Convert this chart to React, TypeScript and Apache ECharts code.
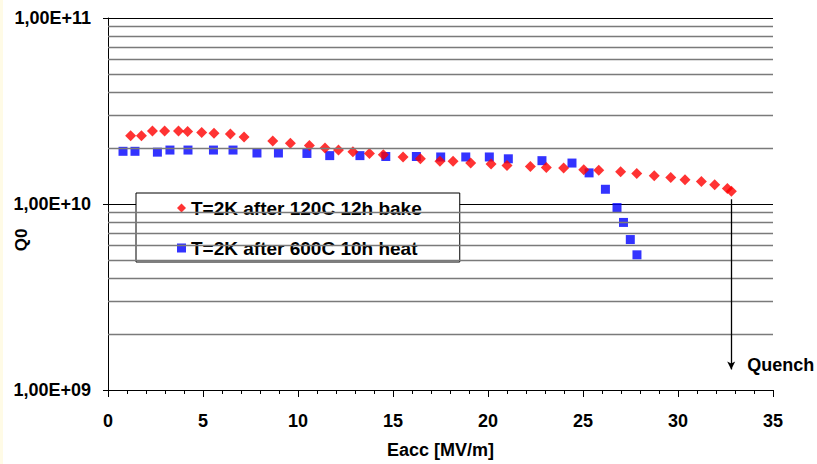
import React, { useEffect, useRef } from "react";
import * as echarts from "echarts";

const redName = "T=2K after 120C 12h bake";
const blueName = "T=2K after 600C 10h heat";

const redX = [1.19, 1.76, 2.34, 2.98, 3.71, 4.19, 4.93, 5.58, 6.44, 7.16, 8.67, 9.6, 10.6, 11.42, 12.13, 12.89, 13.76, 14.49, 15.53, 16.44, 17.47, 18.16, 19.09, 20.16, 21.0, 22.23, 23.07, 23.98, 25.04, 25.83, 26.98, 27.83, 28.75, 29.62, 30.37, 31.23, 31.93, 32.6, 32.81];
const redQ = [2.33e10, 2.33e10, 2.47e10, 2.47e10, 2.47e10, 2.45e10, 2.42e10, 2.4e10, 2.38e10, 2.29e10, 2.18e10, 2.12e10, 2.06e10, 2.0e10, 1.95e10, 1.91e10, 1.87e10, 1.84e10, 1.79e10, 1.75e10, 1.7e10, 1.7e10, 1.66e10, 1.64e10, 1.61e10, 1.59e10, 1.57e10, 1.56e10, 1.53e10, 1.52e10, 1.49e10, 1.46e10, 1.42e10, 1.39e10, 1.35e10, 1.32e10, 1.27e10, 1.21e10, 1.17e10];

const blueX = [0.79, 1.42, 2.6, 3.26, 4.21, 5.55, 6.58, 7.84, 8.97, 10.47, 11.67, 13.26, 14.62, 16.23, 17.51, 18.83, 20.07, 21.07, 22.84, 24.42, 25.32, 26.18, 26.79, 27.13, 27.49, 27.84];
const blueQ = [1.92e10, 1.92e10, 1.9e10, 1.95e10, 1.95e10, 1.95e10, 1.95e10, 1.88e10, 1.88e10, 1.87e10, 1.82e10, 1.82e10, 1.8e10, 1.8e10, 1.79e10, 1.79e10, 1.79e10, 1.75e10, 1.71e10, 1.66e10, 1.47e10, 1.2e10, 9.57e9, 7.96e9, 6.44e9, 5.33e9];

const minorGridQ = [2e9, 3e9, 4e9, 5e9, 6e9, 7e9, 8e9, 9e9, 2e10, 3e10, 4e10, 5e10, 6e10, 7e10, 8e10, 9e10];

const quenchX = 32.8;
const quenchFromQ = 1.06e10;
const quenchToQ = 1.29e9;
const quenchLabel = "Quench";

const FONT = "'Liberation Sans', Arial, sans-serif";

export default function App() {
  const ref = useRef<HTMLDivElement>(null);
  useEffect(() => {
    document.body.style.margin = "0";
    const chart = echarts.init(ref.current!, null, { renderer: "svg" });
    const labelStyle = { color: "#000", fontFamily: FONT, fontWeight: "bold" as const, fontSize: 18 };
    chart.setOption({
      animation: false,
      backgroundColor: "#fff",
      grid: { left: 108, right: 44, top: 18, bottom: 71 },
      graphic: [
        { type: "rect", left: 0, top: 0, shape: { width: 3, height: 464 }, style: { fill: "#fffbe6" }, silent: true },
        {
          type: "text",
          x: 21,
          y: 240,
          rotation: Math.PI / 2,
          style: { text: "Q0", font: `bold 17px ${FONT}`, fill: "#000", align: "center", verticalAlign: "middle" },
        },
      ],
      legend: {
        left: 136,
        top: 193,
        orient: "vertical",
        backgroundColor: "#fff",
        borderColor: "#000",
        borderWidth: 1,
        borderRadius: 0,
        padding: [5, 38, 4, 41],
        itemGap: 20,
        itemWidth: 9,
        itemHeight: 9,
        textStyle: { ...labelStyle, fontSize: 19, lineHeight: 20 },
        data: [
          { name: redName, icon: "diamond" },
          { name: blueName, icon: "rect" },
        ],
      },
      xAxis: {
        type: "value",
        min: 0,
        max: 35,
        interval: 5,
        name: "Eacc [MV/m]",
        nameLocation: "middle",
        nameGap: 51,
        nameTextStyle: labelStyle,
        axisLine: { show: true, lineStyle: { color: "#000", width: 1 } },
        axisTick: { show: true, length: 7, lineStyle: { color: "#000" } },
        minorTick: { show: true, splitNumber: 5, length: 4, lineStyle: { color: "#000" } },
        axisLabel: { ...labelStyle, margin: 22 },
        splitLine: { show: false },
      },
      yAxis: {
        type: "log",
        logBase: 10,
        min: 1e9,
        max: 1e11,
        interval: 1,
        axisLine: { show: true, lineStyle: { color: "#000", width: 1 } },
        axisTick: { show: true, length: 5, lineStyle: { color: "#000" } },
        axisLabel: {
          ...labelStyle,
          margin: 17,
          formatter: (v: number) => {
            const e = Math.round(Math.log10(v));
            return "1,00E+" + String(e).padStart(2, "0");
          },
        },
        splitLine: { show: true, lineStyle: { color: "#000", width: 1 } },
        minorTick: { show: false },
        minorSplitLine: { show: false },
      },
      series: [
        {
          type: "scatter",
          name: "grid",
          data: [],
          z: 1,
          silent: true,
          markLine: {
            silent: true,
            symbol: ["none", "none"],
            label: { show: false },
            lineStyle: { color: "#7a7a7a", width: 1.4, type: "solid" },
            data: minorGridQ.map((q) => ({ yAxis: q })),
          },
        },
        {
          type: "scatter",
          name: blueName,
          symbol: "rect",
          symbolSize: 9,
          itemStyle: { color: "#0000ff" },
          z: 3,
          data: blueX.map((x, i) => [x, blueQ[i]]),
        },
        {
          type: "scatter",
          name: redName,
          symbol: "diamond",
          symbolSize: 11,
          itemStyle: { color: "#ff0000" },
          z: 4,
          data: redX.map((x, i) => [x, redQ[i]]),
          markLine: {
            silent: true,
            animation: false,
            lineStyle: { color: "#000", width: 1.3, type: "solid" },
            label: { show: false },
            data: [
              [
                { coord: [quenchX, quenchFromQ], symbol: "none" },
                { coord: [quenchX, quenchToQ], symbol: "arrow", symbolSize: [6, 8] },
              ],
            ],
          },
          markPoint: {
            silent: true,
            symbol: "circle",
            symbolSize: 0,
            data: [{ coord: [quenchX, quenchToQ] }],
            label: {
              show: true,
              position: "right",
              distance: 16,
              offset: [0, -4],
              formatter: quenchLabel,
              ...labelStyle,
            },
          },
        },
      ],
    });
    return () => chart.dispose();
  }, []);
  return <div ref={ref} style={{ width: 817, height: 464 }} />;
}
